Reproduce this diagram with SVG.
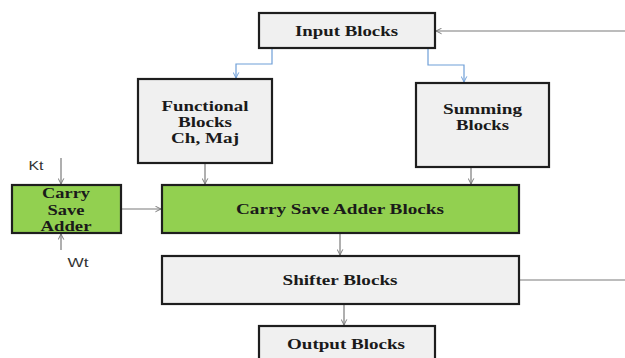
<svg xmlns="http://www.w3.org/2000/svg" width="625" height="358" viewBox="0 0 625 358">
<style>
.box{stroke:#1e1e1e;stroke-width:2.2}
.gray{fill:#f0f0f0}
.green{fill:#92d050}
.t{font-family:"Liberation Serif","Times New Roman",serif;font-weight:bold;font-size:15px;fill:#1a1a1a;text-anchor:middle}
.s{font-family:"Liberation Sans",Arial,sans-serif;font-size:12px;fill:#333;text-anchor:middle}
.c{fill:none;stroke:#7a7a7a;stroke-width:1.2}
.b{fill:none;stroke:#6f9fd8;stroke-width:1.2}
</style>
<defs>
<marker id="ag" viewBox="0 0 10 10" refX="9" refY="5" markerWidth="7" markerHeight="7" orient="auto" markerUnits="userSpaceOnUse"><polyline points="1,1 9,5 1,9" fill="none" stroke="#7a7a7a" stroke-width="1.4"/></marker>
<marker id="ab" viewBox="0 0 10 10" refX="9" refY="5" markerWidth="7" markerHeight="7" orient="auto" markerUnits="userSpaceOnUse"><polyline points="1,1 9,5 1,9" fill="none" stroke="#6f9fd8" stroke-width="1.4"/></marker>
</defs>
<g id="connectors">
<line class="c" x1="625" y1="31" x2="436" y2="31" marker-end="url(#ag)"/>
<polyline class="b" points="272,49 272,64 236,64 236,78" marker-end="url(#ab)"/>
<polyline class="b" points="428,49 428,65 464,65 464,82" marker-end="url(#ab)"/>
<line class="c" x1="205" y1="164" x2="205" y2="184" marker-end="url(#ag)"/>
<line class="c" x1="471" y1="168" x2="471" y2="184" marker-end="url(#ag)"/>
<line class="c" x1="61" y1="158" x2="61" y2="184" marker-end="url(#ag)"/>
<line class="c" x1="61" y1="250" x2="61" y2="234" marker-end="url(#ag)"/>
<line class="c" x1="122" y1="209" x2="161" y2="209" marker-end="url(#ag)"/>
<line class="c" x1="340" y1="234" x2="340" y2="255" marker-end="url(#ag)"/>
<line class="c" x1="520" y1="280" x2="625" y2="280"/>
<line class="c" x1="344" y1="305" x2="344" y2="325" marker-end="url(#ag)"/>
</g>
<g id="input">
<rect class="box gray" x="259" y="13" width="176" height="35"/>
<text class="t" x="346.5" y="36" textLength="103" lengthAdjust="spacingAndGlyphs">Input Blocks</text>
</g>
<g id="functional">
<rect class="box gray" x="138" y="79" width="134" height="84"/>
<text class="t" x="205" y="111" textLength="87" lengthAdjust="spacingAndGlyphs">Functional</text>
<text class="t" x="205" y="127" textLength="54" lengthAdjust="spacingAndGlyphs">Blocks</text>
<text class="t" x="205" y="143" textLength="68" lengthAdjust="spacingAndGlyphs">Ch, Maj</text>
</g>
<g id="summing">
<rect class="box gray" x="416" y="83" width="133" height="84"/>
<text class="t" x="482.5" y="114" textLength="79" lengthAdjust="spacingAndGlyphs">Summing</text>
<text class="t" x="482.5" y="130" textLength="53" lengthAdjust="spacingAndGlyphs">Blocks</text>
</g>
<g id="kt"><text class="s" x="36" y="170" textLength="15" lengthAdjust="spacingAndGlyphs">Kt</text></g>
<g id="wt"><text class="s" x="78" y="267" textLength="21" lengthAdjust="spacingAndGlyphs">Wt</text></g>
<g id="csa">
<rect class="box green" x="12" y="185" width="109" height="48"/>
<text class="t" x="66" y="198" textLength="48" lengthAdjust="spacingAndGlyphs">Carry</text>
<text class="t" x="66" y="215" textLength="37" lengthAdjust="spacingAndGlyphs">Save</text>
<text class="t" x="66" y="231" textLength="51" lengthAdjust="spacingAndGlyphs">Adder</text>
</g>
<g id="csablocks">
<rect class="box green" x="162" y="185" width="357" height="48"/>
<text class="t" x="340" y="214" textLength="208" lengthAdjust="spacingAndGlyphs">Carry Save Adder Blocks</text>
</g>
<g id="shifter">
<rect class="box gray" x="162" y="256" width="357" height="48"/>
<text class="t" x="340" y="285" textLength="115" lengthAdjust="spacingAndGlyphs">Shifter Blocks</text>
</g>
<g id="output">
<rect class="box gray" x="259" y="326" width="176" height="40"/>
<text class="t" x="346" y="349" textLength="118" lengthAdjust="spacingAndGlyphs">Output Blocks</text>
</g>
</svg>
